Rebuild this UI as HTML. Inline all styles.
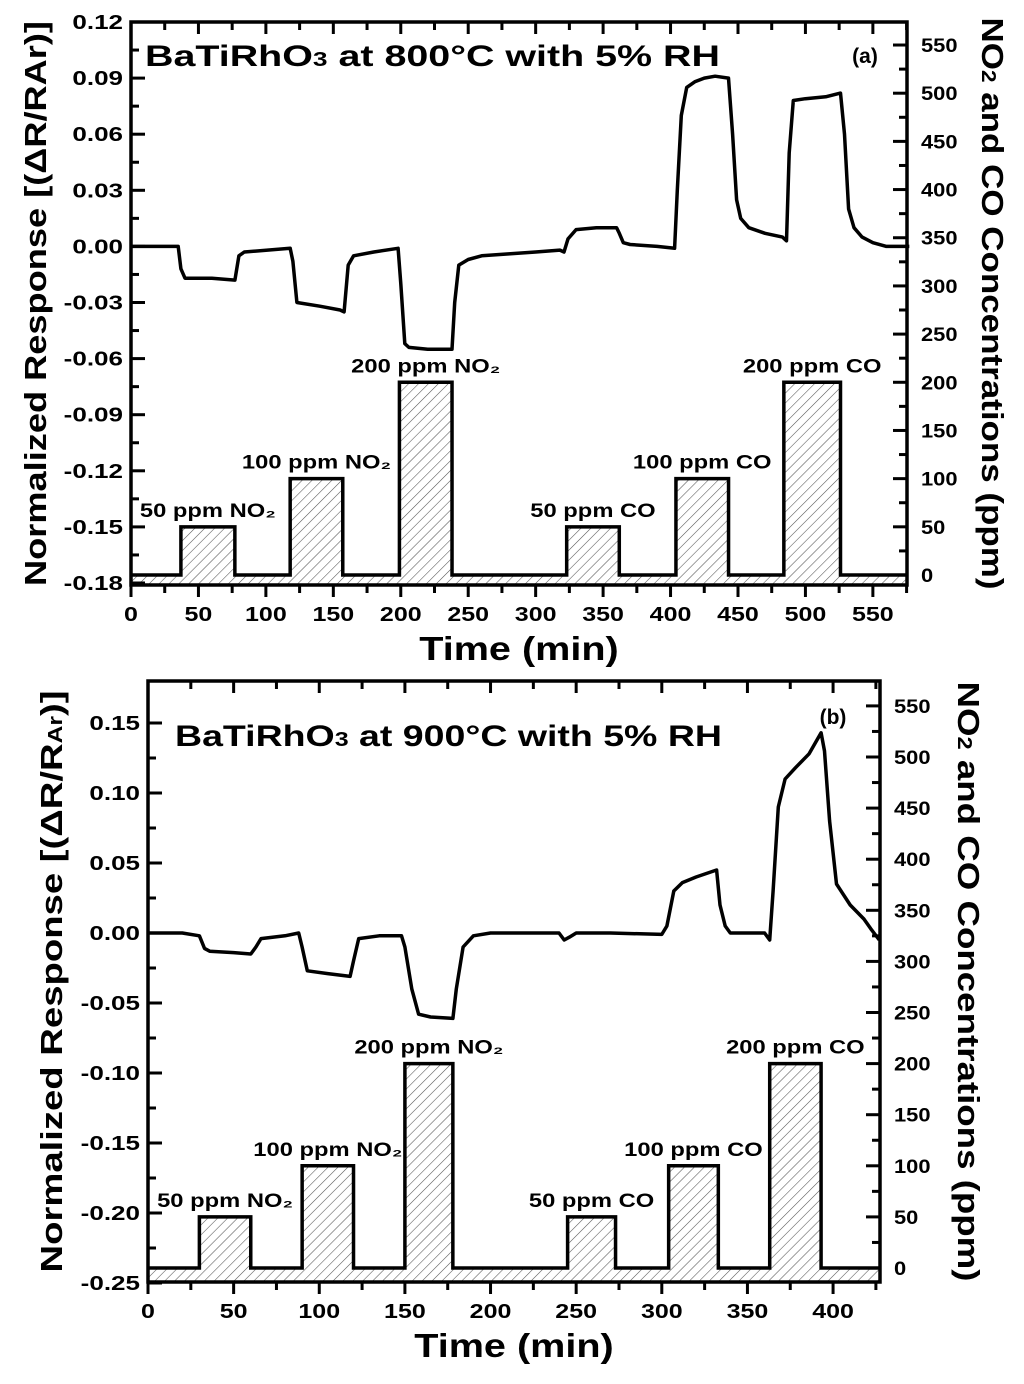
<!DOCTYPE html>
<html><head><meta charset="utf-8"><style>
body{margin:0;background:#fff}
svg{display:block;font-family:"Liberation Sans",Arial,sans-serif;font-weight:bold}
</style></head><body>
<svg id="fig" width="1024" height="1384" viewBox="0 0 1024 1384">
<defs>
<pattern id="hatch" patternUnits="userSpaceOnUse" width="7" height="7" patternTransform="rotate(45)">
<rect width="7" height="7" fill="#fff"/><line x1="0" y1="0" x2="0" y2="7" stroke="#555" stroke-width="1.1"/>
</pattern>
</defs>
</svg>
<script>
// ---- Panel (a) data ----
const aTime=[0,35,37,40,60,77,80,84,118,120,123,140,155,158,161,165,180,198,200,203,206,220,238,240,243,250,260,280,300,318,321,324,330,345,360,362,365,370,390,403,405,408,412,418,425,433,443,446,449,452,458,470,483,486,488,491,500,515,526,529,532,536,542,550,560,577];
const aResp=[0,0,-0.012,-0.017,-0.017,-0.018,-0.005,-0.003,-0.001,-0.008,-0.03,-0.032,-0.034,-0.035,-0.01,-0.005,-0.003,-0.001,-0.02,-0.052,-0.054,-0.055,-0.055,-0.03,-0.01,-0.007,-0.005,-0.004,-0.003,-0.002,-0.003,0.004,0.009,0.01,0.01,0.007,0.002,0.001,0,-0.001,0.03,0.07,0.085,0.088,0.09,0.091,0.09,0.06,0.025,0.015,0.01,0.007,0.005,0.003,0.05,0.078,0.079,0.08,0.082,0.06,0.02,0.01,0.005,0.002,0,0];
const aBarStart=[37,118,199,323,404,484];
const aBarEnd=[77,157,238,362,443,526];
const aBarPpm=[50,100,200,50,100,200];
const aBarLabel=["50 ppm NO₂","100 ppm NO₂","200 ppm NO₂","50 ppm CO","100 ppm CO","200 ppm CO"];
const aYTicks=[-0.18,-0.15,-0.12,-0.09,-0.06,-0.03,0.00,0.03,0.06,0.09,0.12];
const aXTicks=[0,50,100,150,200,250,300,350,400,450,500,550];
const rTicks=[0,50,100,150,200,250,300,350,400,450,500,550];
// ---- Panel (b) data ----
const bTime=[0,20,30,33,36,50,60,63,66,80,88,90,93,105,118,120,123,135,148,150,154,158,165,178,180,184,190,200,220,240,243,246,250,270,300,303,307,312,320,332,334,337,340,350,360,363,365,368,372,378,386,393,395,398,402,410,418,422,427];
const bResp=[0,0,-0.002,-0.011,-0.013,-0.014,-0.015,-0.01,-0.004,-0.002,0,-0.01,-0.027,-0.029,-0.031,-0.02,-0.004,-0.002,-0.002,-0.01,-0.04,-0.058,-0.06,-0.061,-0.04,-0.01,-0.002,0,0,0,-0.005,-0.003,0,0,-0.001,0.005,0.03,0.036,0.04,0.045,0.02,0.005,0,0,0,-0.005,0.03,0.09,0.11,0.118,0.128,0.143,0.13,0.08,0.035,0.02,0.01,0.003,-0.005];
const bBarStart=[30,90,150,245,304,363];
const bBarEnd=[60,120,178,273,333,393];
const bBarPpm=[50,100,200,50,100,200];
const bBarLabel=["50 ppm NO₂","100 ppm NO₂","200 ppm NO₂","50 ppm CO","100 ppm CO","200 ppm CO"];
const bYTicks=[-0.25,-0.20,-0.15,-0.10,-0.05,0.00,0.05,0.10,0.15];
const bXTicks=[0,50,100,150,200,250,300,350,400];

const NS="http://www.w3.org/2000/svg";
const svg=document.getElementById('fig');
function el(tag,attrs,parent,txt){const e=document.createElementNS(NS,tag);for(const k in attrs)e.setAttribute(k,attrs[k]);if(txt!==undefined)e.textContent=txt;(parent||svg).appendChild(e);return e;}
function stretch(t,f){const w=t.getComputedTextLength();if(w>0){t.setAttribute('textLength',(w*f).toFixed(1));t.setAttribute('lengthAdjust','spacingAndGlyphs');}}

function panel(cfg){
  const g=el('g',{});
  
  
  const X=t=>cfg.x0+(t-cfg.xmin)*(cfg.x1-cfg.x0)/(cfg.xmax-cfg.xmin);
  const Y=v=>cfg.yv0+(v-cfg.v0)*(cfg.yv1-cfg.yv0)/(cfg.v1-cfg.v0);
  const R=p=>cfg.rp0-p*cfg.rs;
  const L=cfg.x0,Rt=cfg.x1,T=cfg.top,B=cfg.bot;
  const strip=el('rect',{x:L,y:R(0),width:Rt-L,height:B-R(0),fill:'url(#hatch)'},g);
  
  
  let d='M'+L+','+R(0);
  for(let i=0;i<cfg.bs.length;i++){
    const r=el('rect',{x:X(cfg.bs[i]),y:R(cfg.bp[i]),width:X(cfg.be[i])-X(cfg.bs[i]),height:R(0)-R(cfg.bp[i]),fill:'url(#hatch)'},g);
    
    
    d+=' L'+X(cfg.bs[i])+','+R(0)+' L'+X(cfg.bs[i])+','+R(cfg.bp[i])+' L'+X(cfg.be[i])+','+R(cfg.bp[i])+' L'+X(cfg.be[i])+','+R(0);
    const lt=el('text',{x:(X(cfg.bs[i])+X(cfg.be[i]))/2,y:R(cfg.bp[i])-10,'text-anchor':'middle','font-size':19},g,cfg.bl[i]);
    
    
    stretch(lt,1.25);
  }
  d+=' L'+Rt+','+R(0);
  const cp=el('path',{d:d,fill:'none',stroke:'#000','stroke-width':3.5},g);
  
  
  let pd='';
  for(let i=0;i<cfg.t.length;i++)pd+=(i?' L':'M')+X(cfg.t[i]).toFixed(1)+','+Y(cfg.r[i]).toFixed(1);
  const rl=el('path',{d:pd,fill:'none',stroke:'#000','stroke-width':3.5,'stroke-linejoin':'round'},g);
  
  
  const fr=el('rect',{x:L,y:T,width:Rt-L,height:B-T,fill:'none',stroke:'#000','stroke-width':3.5},g);
  
  
  for(let i=0;i<cfg.yt.length;i++){
    const v=cfg.yt[i],y=Y(v);
    el('line',{x1:L,y1:y,x2:L+14,y2:y,stroke:'#000','stroke-width':3},g);
    if(i<cfg.yt.length-1){const ym=Y((v+cfg.yt[i+1])/2);el('line',{x1:L,y1:ym,x2:L+8,y2:ym,stroke:'#000','stroke-width':3},g);}
    const lab=el('text',{x:L-8,y:y+7,'text-anchor':'end','font-size':20},g,v.toFixed(2));
    
    
    stretch(lab,1.3);
  }
  for(let i=0;i<cfg.xt.length;i++){
    const x=X(cfg.xt[i]);
    el('line',{x1:x,y1:B,x2:x,y2:B+12,stroke:'#000','stroke-width':3},g);
    el('line',{x1:x,y1:T,x2:x,y2:T+12,stroke:'#000','stroke-width':3},g);
    const xm=X(cfg.xt[i]+25);
    if(xm<Rt){el('line',{x1:xm,y1:B,x2:xm,y2:B+8,stroke:'#000','stroke-width':3},g);el('line',{x1:xm,y1:T,x2:xm,y2:T+8,stroke:'#000','stroke-width':3},g);}
    const lab=el('text',{x:x,y:B+36,'text-anchor':'middle','font-size':20},g,String(cfg.xt[i]));
    
    
    stretch(lab,1.25);
  }
  for(let i=0;i<rTicks.length;i++){
    const y=R(rTicks[i]);
    el('line',{x1:Rt-14,y1:y,x2:Rt,y2:y,stroke:'#000','stroke-width':3},g);
    const ym=R(rTicks[i]+25);
    if(ym>T)el('line',{x1:Rt-8,y1:ym,x2:Rt,y2:ym,stroke:'#000','stroke-width':3},g);
    const lab=el('text',{x:Rt+14,y:y+7,'font-size':19},g,String(rTicks[i]));
    
    
    stretch(lab,1.15);
  }
  const tt=el('text',{x:cfg.titleX,y:cfg.titleY,'font-size':30},g);
  
  
  el('tspan',{},tt,'BaTiRhO');el('tspan',{'font-size':20},tt,'3');el('tspan',{},tt,cfg.title);
  tt.setAttribute('textLength',cfg.titleW);tt.setAttribute('lengthAdjust','spacingAndGlyphs');
  const pl=el('text',{x:cfg.plX,y:cfg.plY,'font-size':21,'text-anchor':'middle'},g,cfg.pl);
  
  
  const xt=el('text',{x:(L+Rt)/2,y:B+75,'text-anchor':'middle','font-size':33},g,'Time (min)');
  
  
  stretch(xt,1.2);
  const yl=el('text',{x:0,y:0,'text-anchor':'middle','font-size':31,transform:'translate('+cfg.ylX+','+((T+B)/2)+') rotate(-90)'},g);
  
  
  el('tspan',{},yl,'Normalized Response [(ΔR/R');el('tspan',{'font-size':cfg.subSmall?20:31},yl,'Ar');el('tspan',{},yl,')]');
  yl.setAttribute('textLength',cfg.ylW);yl.setAttribute('lengthAdjust','spacingAndGlyphs');
  const yr=el('text',{x:0,y:0,'text-anchor':'middle','font-size':31,transform:'translate('+cfg.yrX+','+((T+B)/2)+') rotate(90)'},g);
  
  
  el('tspan',{},yr,'NO');el('tspan',{'font-size':20},yr,'2');el('tspan',{},yr,' and CO Concentrations (ppm)');
  yr.setAttribute('textLength',cfg.yrW);yr.setAttribute('lengthAdjust','spacingAndGlyphs');
}

panel({name:'panel-a',x0:131,x1:907,xmin:0,xmax:575.3,top:22,bot:585,yv0:22,v0:0.12,yv1:583,v1:-0.18,rp0:575,rs:0.9636,
  t:aTime,r:aResp,bs:aBarStart,be:aBarEnd,bp:aBarPpm,bl:aBarLabel,yt:aYTicks,xt:aXTicks,
  title:' at 800°C with 5% RH',titleX:145,titleY:66,titleW:575,pl:'(a)',plX:865,plY:63,ylX:46,ylW:565,yrX:982,yrW:572,subSmall:false});
panel({name:'panel-b',x0:148,x1:880,xmin:0,xmax:427.4,top:681,bot:1282,yv0:723,v0:0.15,yv1:1283,v1:-0.25,rp0:1268,rs:1.022,
  t:bTime,r:bResp,bs:bBarStart,be:bBarEnd,bp:bBarPpm,bl:bBarLabel,yt:bYTicks,xt:bXTicks,
  title:' at 900°C with 5% RH',titleX:175,titleY:746,titleW:547,pl:'(b)',plX:833,plY:724,ylX:62,ylW:582,yrX:958,yrW:600,subSmall:true});
</script>
</body></html>
